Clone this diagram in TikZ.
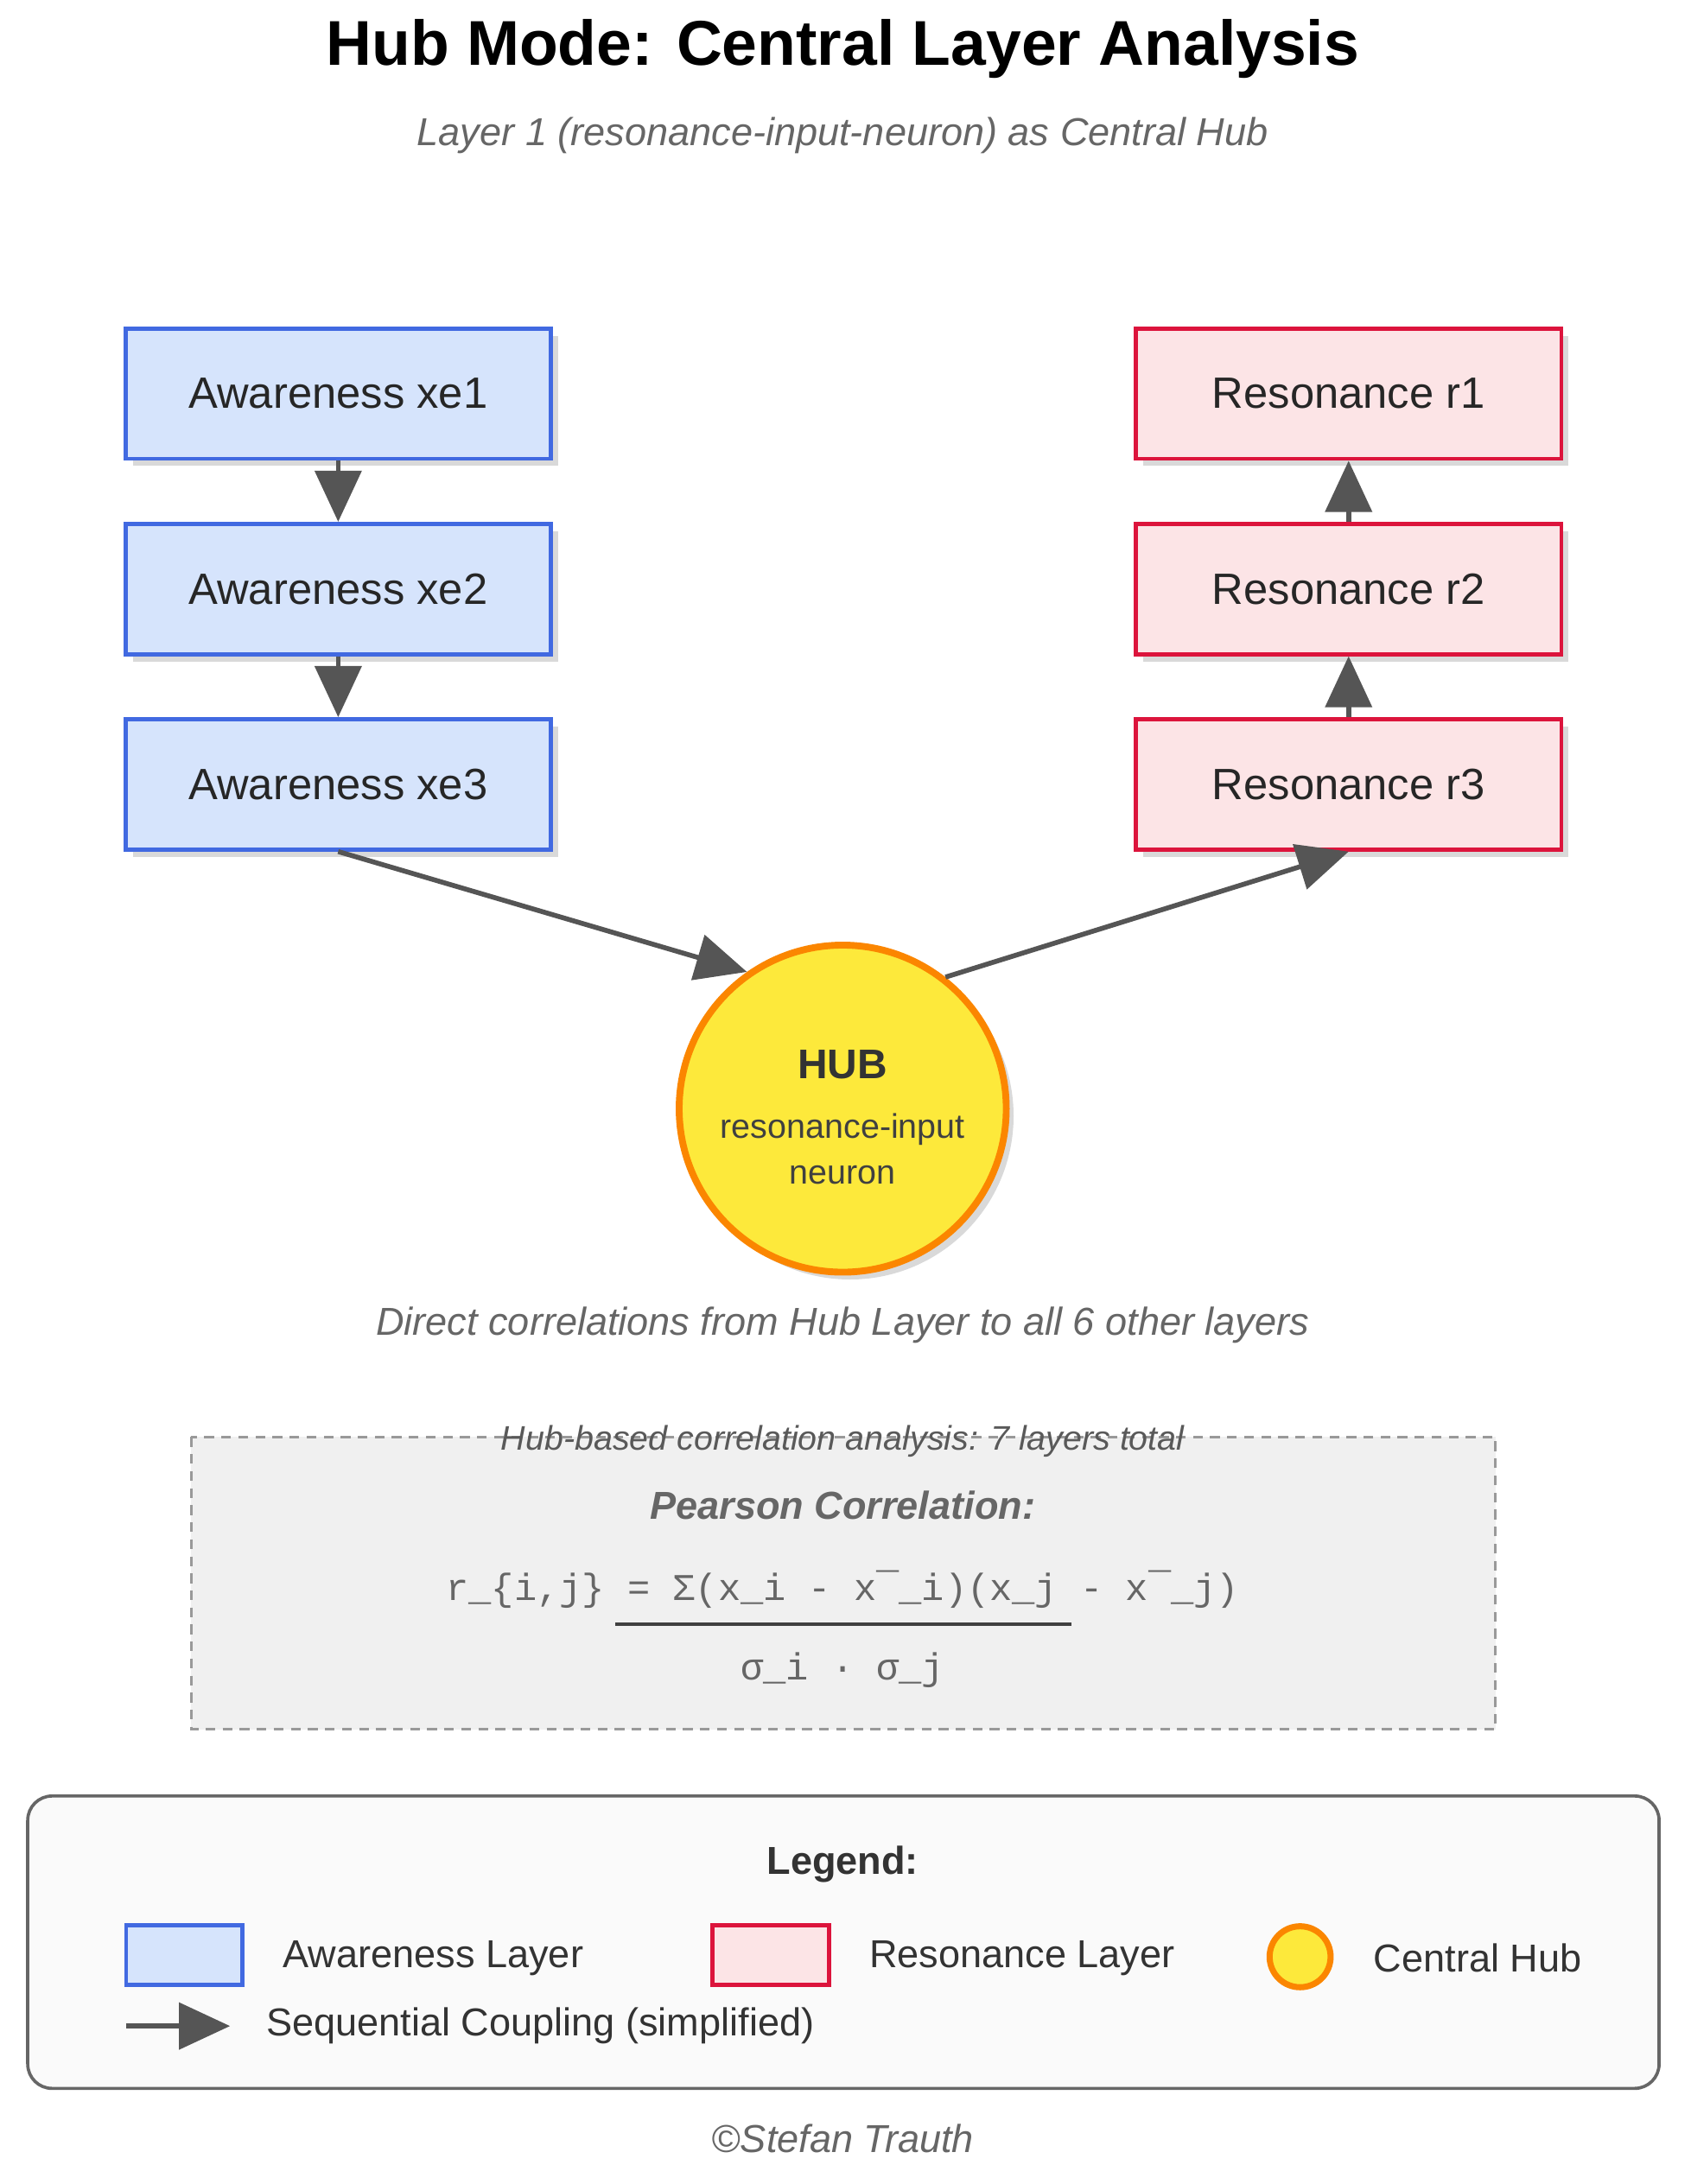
\documentclass[tikz,border=0pt]{standalone}
\usepackage{fontspec}
\setmainfont{Liberation Sans}
\setmonofont{Liberation Mono}
\usetikzlibrary{arrows.meta,shadows}

\definecolor{awfill}{HTML}{D6E4FC}
\definecolor{awline}{HTML}{4169E1}
\definecolor{refill}{HTML}{FCE4E6}
\definecolor{reline}{HTML}{DC143C}
\definecolor{hubfill}{HTML}{FDE93B}
\definecolor{hubline}{HTML}{FB8600}
\definecolor{arrowgray}{HTML}{555555}
\definecolor{txtgray}{HTML}{666666}

\newcommand{\fs}[1]{\fontsize{#1}{1.2\dimexpr#1\relax}\selectfont}

\tikzset{
  layerbox/.style={draw, line width=1.7pt, minimum width=307*0.02cm, minimum height=94*0.02cm,
    inner sep=0pt, font=\fs{18pt}, text=black!85, drop shadow={opacity=0.3,shadow xshift=3pt,shadow yshift=-3pt}},
  aware/.style={layerbox, fill=awfill, draw=awline},
  reso/.style={layerbox, fill=refill, draw=reline},
  coupling/.style={-{Triangle[length=21pt,width=19pt]}, line width=2pt, arrowgray},
}

\begin{document}
\begin{tikzpicture}[x=0.02cm, y=-0.02cm]
  \useasboundingbox (0,0) rectangle (1220,1576);

  % title
  \node (title) at (608,35) {\fs{26pt}\bfseries Hub Mode: Central Layer Analysis};
  \node (subtitle) at (608,98) [text=txtgray] {\fs{16pt}\itshape Layer 1 (resonance-input-neuron) as Central Hub};

  % awareness chain
  \node (xe1) at (244,284) [aware] {Awareness xe1};
  \node (xe2) at (244,425) [aware] {Awareness xe2};
  \node (xe3) at (244,566) [aware] {Awareness xe3};

  % resonance chain
  \node (r1) at (973,284) [reso] {Resonance r1};
  \node (r2) at (973,425) [reso] {Resonance r2};
  \node (r3) at (973,566) [reso] {Resonance r3};

  % hub
  \node (hub) at (608,800) [circle, minimum size=236*0.02cm, fill=hubfill, draw=hubline, line width=2.8pt,
    drop shadow={opacity=0.3,shadow xshift=3pt,shadow yshift=-3pt}] {};
  \node (hubtitle) at (608,768) [text=black!80, font=\fs{17pt}\bfseries] {HUB};
  \node (hubtext) at (608,829) [align=center, text=black!75, font=\fontsize{14pt}{19pt}\selectfont] {resonance-input\\neuron};

  \draw[coupling] (xe1.south) -- (xe2.north);
  \draw[coupling] (xe2.south) -- (xe3.north);
  \draw[coupling] (r2.north) -- (r1.south);
  \draw[coupling] (r3.north) -- (r2.south);
  \draw[coupling] (xe3.south) -- (hub.125);
  \draw[coupling] (hub.52) -- (r3.south);

  \node (direct) at (608,956) [text=txtgray] {\fs{16pt}\itshape Direct correlations from Hub Layer to all 6 other layers};

  % formula box
  \draw[dashed, line width=1pt, draw=black!40, fill=black!6, dash pattern=on 4pt off 3pt] (138,1037) rectangle (1079,1248);
  \node (boxlabel) at (608,1040) [text=black!65] {\fs{14pt}\itshape Hub-based correlation analysis: 7 layers total};
  \node (pearson) at (608,1086) [text=txtgray] {\fs{16pt}\bfseries\itshape Pearson Correlation:};
  \node (numer) at (608,1147) [text=txtgray] {\fs{15.5pt}\ttfamily r\_\{i,j\} = Σ(x\_i - x¯\_i)(x\_j - x¯\_j)};
  \coordinate (fracl) at (444,1172);
  \coordinate (fracr) at (773,1172);
  \draw[line width=1.5pt, black!75] (fracl) -- (fracr);
  \node (denom) at (608,1205) [text=txtgray] {\fs{15.5pt}\ttfamily σ\_i · σ\_j};

  % legend
  \draw[rounded corners=10pt, line width=1.3pt, draw=black!60, fill=black!2] (20,1296) rectangle (1197,1507);
  \node (legend) at (608,1345) [text=black!80] {\fs{16pt}\bfseries Legend:};
  \node (lgaware) at (133,1411) [draw=awline, fill=awfill, line width=1.7pt, minimum width=84*0.02cm, minimum height=43*0.02cm] {};
  \node (lgawaretext) at (198,1413) [anchor=west, text=black!80] {\fs{16pt}Awareness Layer};
  \node (lgreso) at (556,1411) [draw=reline, fill=refill, line width=1.7pt, minimum width=84*0.02cm, minimum height=43*0.02cm] {};
  \node (lgresotext) at (621,1413) [anchor=west, text=black!80] {\fs{16pt}Resonance Layer};
  \node (lghub) at (938,1412) [circle, draw=hubline, fill=hubfill, line width=2.5pt, minimum size=44*0.02cm] {};
  \node (lghubtext) at (985,1413) [anchor=west, text=black!80] {\fs{16pt}Central Hub};
  \coordinate (lgarrowa) at (91,1462);
  \coordinate (lgarrowb) at (166,1462);
  \draw[coupling] (lgarrowa) -- (lgarrowb);
  \node (lgarrowtext) at (186,1462) [anchor=west, text=black!80] {\fs{16pt}Sequential Coupling (simplified)};

  \node (copyright) at (608,1543) [text=txtgray] {\fs{16pt}\itshape ©Stefan Trauth};
\end{tikzpicture}
\end{document}
